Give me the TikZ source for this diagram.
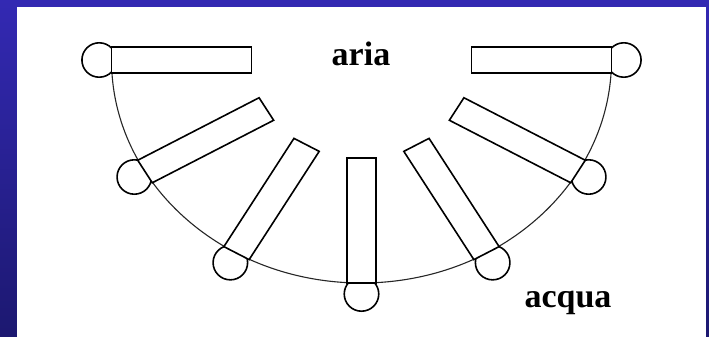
\documentclass[tikz,border=0pt]{standalone}
\usepackage{fontspec}
\setmainfont{Liberation Serif}
\begin{document}
\begin{tikzpicture}[x=1pt,y=-1pt,
  mol/.style={draw=black, fill=white, line width=1.6pt},
  iface/.style={draw=black!85, line width=1.1pt},
  lbl/.style={font=\fontsize{34}{34}\selectfont\bfseries, inner sep=0pt, anchor=base}]
\useasboundingbox (0,0) rectangle (709,337);
\shade[top color={rgb,255:red,51;green,41;blue,179}, bottom color={rgb,255:red,28;green,24;blue,112}] (0,0) rectangle (709,337);
\fill[white] (17,7) rectangle (706,337);
\begin{scope}[shift={(361.5,60)}, xscale=1.121]
  \draw[iface] (180:223) arc[start angle=180, end angle=0, radius=223];
  \foreach \a in {180,150,120,90,60,30,0}{
    \draw[mol] (\a:234) circle[x radius=15.4, y radius=17.2];
  }
  \foreach \a in {180,150,120,90,60,30,0}{
    \draw[mol] (\a:98) ++(\a+90:13) -- ++(\a:125) -- ++(\a-90:26) -- ++(\a+180:125) -- cycle;
  }
\end{scope}
\node[lbl] (aria) at (361,66) {aria};
\node[lbl] (acqua) at (568,307) {acqua};
\end{tikzpicture}
\end{document}
